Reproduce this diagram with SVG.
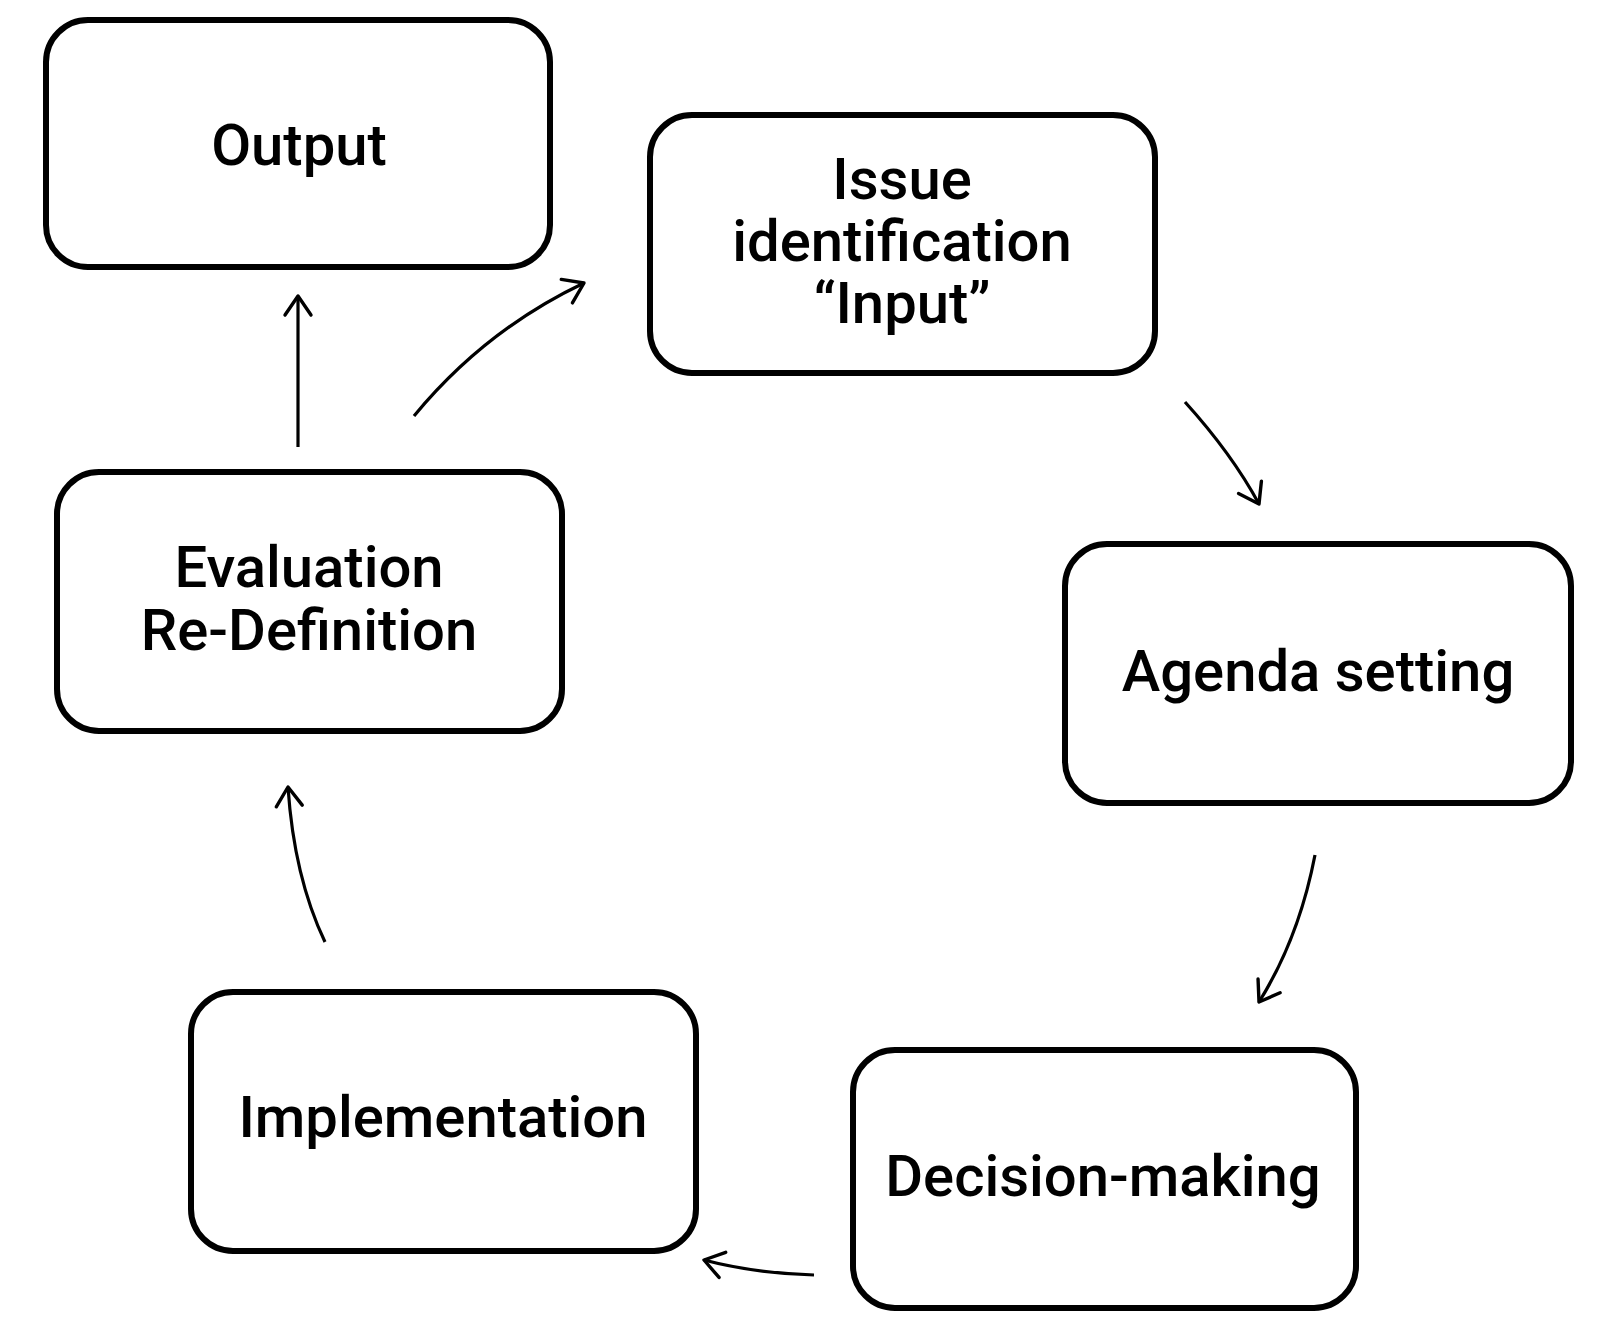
<svg xmlns="http://www.w3.org/2000/svg" width="1617" height="1321" viewBox="0 0 1617 1321">
<style>
.box{fill:#fff;stroke:#000;stroke-width:6}
.lbl{font-family:Roboto,"Liberation Sans",sans-serif;font-weight:500;font-size:58px;fill:#000;text-anchor:middle}
.con{fill:none;stroke:#000;stroke-width:3.2;marker-end:url(#ah)}
</style>
<defs>
<marker id="ah" markerUnits="userSpaceOnUse" markerWidth="50" markerHeight="50" viewBox="-25 -25 50 50" refX="0" refY="0" orient="auto">
<path d="M-19,-13 L0,0 L-19,13" fill="none" stroke="#000" stroke-width="3.4" stroke-linecap="round" stroke-linejoin="round"/>
</marker>
</defs>
<rect width="1617" height="1321" fill="#fff"/>
<g id="connectors">
<path class="con" d="M298,447 L298,296"/>
<path class="con" d="M414,416 Q485,330 584,283"/>
<path class="con" d="M1185,402 Q1232,454 1259,504"/>
<path class="con" d="M1315,855 Q1299,938 1259,1002"/>
<path class="con" d="M814,1275 Q753,1273 704,1260"/>
<path class="con" d="M325,942 Q294,877 288,787"/>
</g>
<g id="output">
<rect class="box" x="46" y="20" width="504" height="247" rx="42"/>
<text class="lbl" x="299" y="165">Output</text>
</g>
<g id="issue">
<rect class="box" x="650" y="115" width="505" height="258" rx="42"/>
<text class="lbl" x="902" y="199">Issue</text>
<text class="lbl" x="902" y="261">identification</text>
<text class="lbl" x="902" y="323">“Input”</text>
</g>
<g id="agenda">
<rect class="box" x="1065" y="544" width="506" height="259" rx="42"/>
<text class="lbl" x="1318" y="691">Agenda setting</text>
</g>
<g id="decision">
<rect class="box" x="853" y="1050" width="503" height="258" rx="42"/>
<text class="lbl" x="1103" y="1196">Decision-making</text>
</g>
<g id="implementation">
<rect class="box" x="191" y="992" width="505" height="259" rx="42"/>
<text class="lbl" x="443" y="1137">Implementation</text>
</g>
<g id="evaluation">
<rect class="box" x="57" y="472" width="505" height="259" rx="42"/>
<text class="lbl" x="309" y="587">Evaluation</text>
<text class="lbl" x="309" y="650">Re-Definition</text>
</g>
</svg>
